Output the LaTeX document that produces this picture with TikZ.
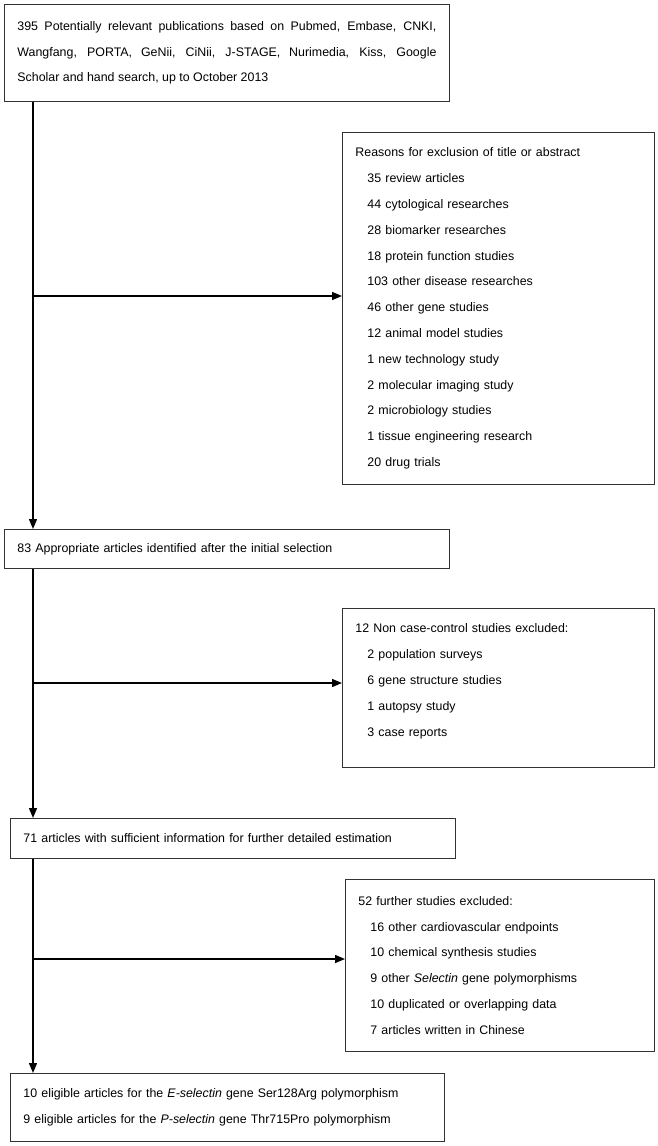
\documentclass[tikz,border=0pt]{standalone}
\usepackage{fontspec}
\setmainfont{Liberation Sans}
\usetikzlibrary{arrows.meta}
\begin{document}
\begin{tikzpicture}[x=1pt, y=-1pt,
  box/.style={draw=black!80, line width=0.9pt, anchor=north west, align=left, inner xsep=13pt, inner ysep=0pt, font=\fontsize{12.4}{25.8}\selectfont},
  arr/.style={line width=1.4pt, -{Triangle[length=10pt,width=8pt]}}]
\useasboundingbox (0,0) rectangle (658,1146);
\node[box, align=justify, text width=419pt, minimum height=97pt] (B_0_0) at (4,4) {395 Potentially relevant publications based on Pubmed, Embase, CNKI,\linebreak Wangfang, PORTA, GeNii, CiNii, J-STAGE, Nurimedia, Kiss, Google\linebreak Scholar and hand search, up to October 2013};
\node[box, text width=286pt, minimum height=352pt] (B_1_0) at (342,132) {Reasons for exclusion of title or abstract\\
\hspace*{12pt}35 review articles\\
\hspace*{12pt}44 cytological researches\\
\hspace*{12pt}28 biomarker researches\\
\hspace*{12pt}18 protein function studies\\
\hspace*{12pt}103 other disease researches\\
\hspace*{12pt}46 other gene studies\\
\hspace*{12pt}12 animal model studies\\
\hspace*{12pt}1 new technology study\\
\hspace*{12pt}2 molecular imaging study\\
\hspace*{12pt}2 microbiology studies\\
\hspace*{12pt}1 tissue engineering research\\
\hspace*{12pt}20 drug trials};
\node[box, text width=419pt, minimum height=39pt] (B_0_1) at (4,529) {83 Appropriate articles identified after the initial selection};
\node[box, text width=286pt, minimum height=159pt] (B_1_1) at (342,608) {12 Non case-control studies excluded:\\
\hspace*{12pt}2 population surveys\\
\hspace*{12pt}6 gene structure studies\\
\hspace*{12pt}1 autopsy study\\
\hspace*{12pt}3 case reports\\[-10pt]\mbox{}};
\node[box, text width=419pt, minimum height=40pt] (B_0_2) at (10,818) {71 articles with sufficient information for further detailed estimation};
\node[box, text width=283pt, minimum height=172pt] (B_1_2) at (345,879) {52 further studies excluded:\\
\hspace*{12pt}16 other cardiovascular endpoints\\
\hspace*{12pt}10 chemical synthesis studies\\
\hspace*{12pt}9 other \textit{Selectin} gene polymorphisms\\
\hspace*{12pt}10 duplicated or overlapping data\\
\hspace*{12pt}7 articles written in Chinese};
\node[box, text width=408pt, minimum height=68pt] (B_0_3) at (10,1073) {10 eligible articles for the \textit{E-selectin} gene Ser128Arg polymorphism\\
9 eligible articles for the \textit{P-selectin} gene Thr715Pro polymorphism};
\coordinate (J_0) at (33,296);
\coordinate (J_1) at (33,683);
\coordinate (J_2) at (33,959);
\draw[arr] (B_0_0.south -| J_0) -- (B_0_1.north -| J_0);
\draw[arr] (J_0) -- (J_0 -| B_1_0.west);
\draw[arr] (B_0_1.south -| J_1) -- (B_0_2.north -| J_1);
\draw[arr] (J_1) -- (J_1 -| B_1_1.west);
\draw[arr] (B_0_2.south -| J_2) -- (B_0_3.north -| J_2);
\draw[arr] (J_2) -- (J_2 -| B_1_2.west);
\end{tikzpicture}
\end{document}
